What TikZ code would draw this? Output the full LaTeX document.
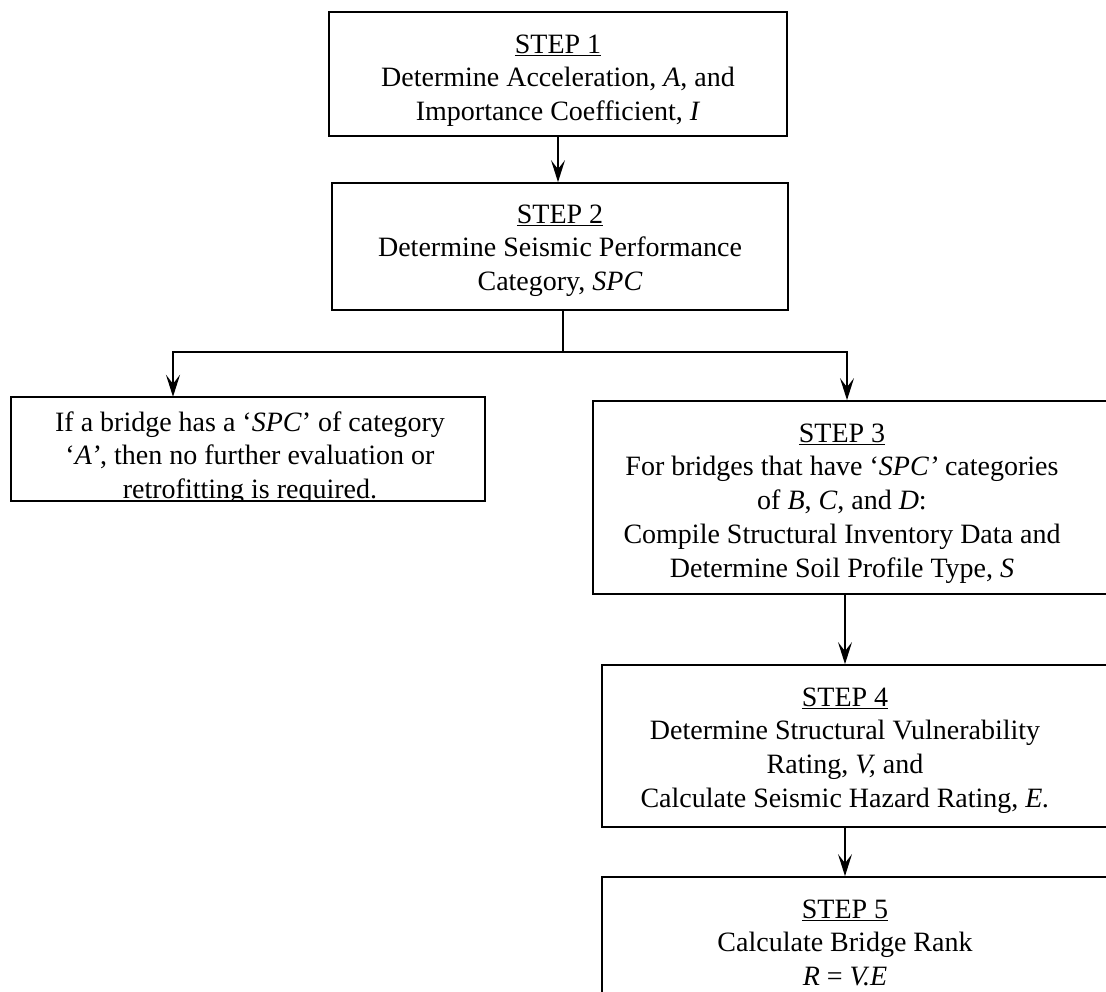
\documentclass[tikz,border=0pt]{standalone}
\usepackage{fontspec}
\setmainfont{Liberation Serif}
\usetikzlibrary{arrows.meta}
\begin{document}
\begin{tikzpicture}[x=1pt,y=-1pt,
  box/.style={draw, line width=1.8pt, inner sep=0pt},
  txt/.style={anchor=north, align=center, inner sep=0pt, font=\fontsize{28}{33.8}\selectfont},
  link/.style={line width=1.4pt},
  arr/.style={line width=1.4pt, -{Stealth[length=22pt,width=14pt,inset=9pt]}}
]
\useasboundingbox (0,0) rectangle (1106,992);
\clip (0,0) rectangle (1106,992);

% boxes
\node[box, minimum width=458pt, minimum height=124pt] (b1) at (558,74) {};
\node[box, minimum width=456pt, minimum height=127pt] (b2) at (560,246.5) {};
\node[box, minimum width=519pt, minimum height=193pt] (b3) at (852.5,497.5) {};
\node[box, minimum width=510pt, minimum height=162pt] (b4) at (857,746) {};
\node[box, minimum width=510pt, minimum height=133pt] (b5) at (857,943.5) {};
\path (248,449) node[inner sep=0pt, minimum width=474pt, minimum height=104pt] (lb) {};

% texts
\node[txt] (t1) at (558,29.3) {\strut\underline{STEP 1}\\Determine Acceleration, \textit{A}, and\\Importance Coefficient, \textit{I}};
\node[txt] (t2) at (560,199.3) {\strut\underline{STEP 2}\\Determine Seismic Performance\\Category, \textit{SPC}};
\begin{scope}
\clip (lb.south west) rectangle (lb.north east);
\node[txt] (tl) at (250,407.3) {\strut If a bridge has a ‘\textit{SPC}’ of category\\‘\textit{A’}, then no further evaluation or\\retrofitting is required.};
\end{scope}
\draw[line width=1.8pt] (lb.south west) rectangle (lb.north east);
\node[txt] (t3) at (842,418.3) {\strut\underline{STEP 3}\\For bridges that have ‘\textit{SPC’} categories\\of \textit{B}, \textit{C}, and \textit{D}:\\Compile Structural Inventory Data and\\Determine Soil Profile Type, \textit{S}};
\node[txt] (t4) at (845,682.3) {\strut\underline{STEP 4}\\Determine Structural Vulnerability\\Rating, \textit{V,} and\\Calculate Seismic Hazard Rating, \textit{E.}};
\node[txt] (t5) at (845,894.3) {\strut\underline{STEP 5}\\Calculate Bridge Rank\\\textit{R} = \textit{V.E}};

% connectors
\coordinate (j) at (563,352);
\coordinate (jl) at (173,352);
\coordinate (jr) at (847,352);
\draw[arr] (b1.south -| t1) -- (b2.north -| t1);
\draw[link] (b2.south -| j) -- (j);
\draw[arr] (j) -- (jl) -- (jl |- lb.north);
\draw[arr] (j) -- (jr) -- (jr |- b3.north);
\draw[arr] (b3.south -| t4) -- (b4.north -| t4);
\draw[arr] (b4.south -| t5) -- (b5.north -| t5);
\end{tikzpicture}
\end{document}
